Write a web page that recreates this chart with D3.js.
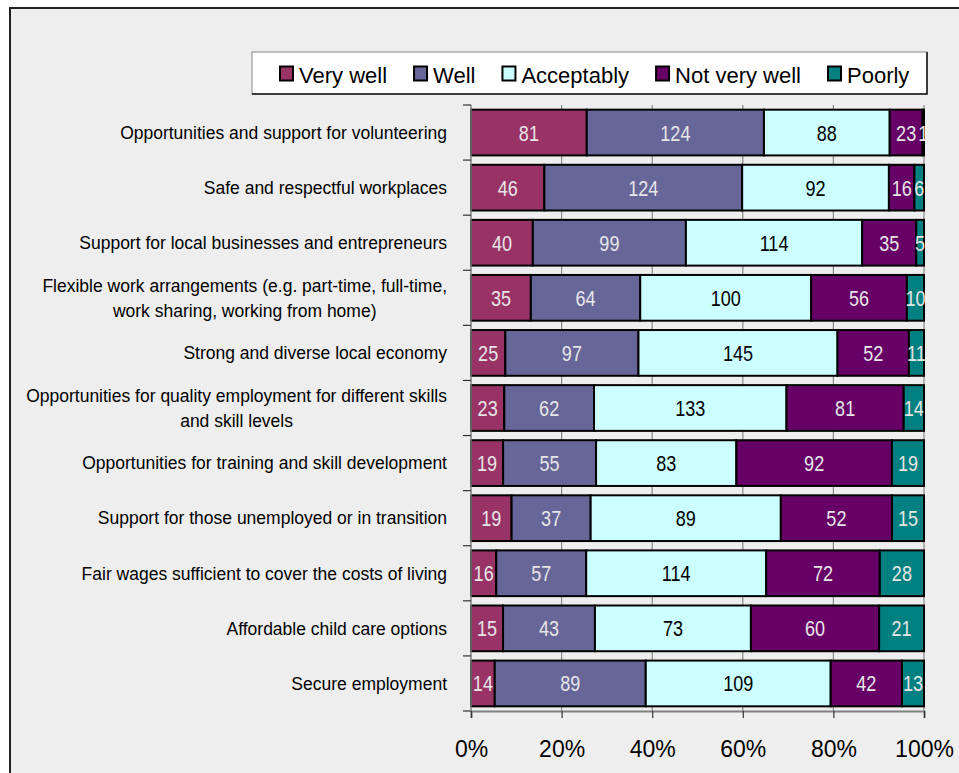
<!DOCTYPE html>
<html>
<head>
<meta charset="utf-8">
<script src="https://cdn.jsdelivr.net/npm/d3@7"></script>
<style>
  html, body { margin: 0; padding: 0; background: #ffffff; }
  svg { display: block; }
  text { font-family: "Liberation Sans", Arial, sans-serif; }
</style>
</head>
<body>
<svg id="chart" width="959" height="773"></svg>
<script>
// Survey responses: how well each area is being addressed
const categories = [
  ["Opportunities and support for volunteering"],
  ["Safe and respectful workplaces"],
  ["Support for local businesses and entrepreneurs"],
  ["Flexible work arrangements (e.g. part-time, full-time,", "work sharing, working from home)"],
  ["Strong and diverse local economy"],
  ["Opportunities for quality employment for different skills", "and skill levels"],
  ["Opportunities for training and skill development"],
  ["Support for those unemployed or in transition"],
  ["Fair wages sufficient to cover the costs of living"],
  ["Affordable child care options"],
  ["Secure employment"]
];
const seriesNames = ["Very well", "Well", "Acceptably", "Not very well", "Poorly"];
const veryWell   = [81, 46, 40, 35, 25, 23, 19, 19, 16, 15, 14];
const well       = [124, 124, 99, 64, 97, 62, 55, 37, 57, 43, 89];
const acceptably = [88, 92, 114, 100, 145, 133, 83, 89, 114, 73, 109];
const notVeryWell= [23, 16, 35, 56, 52, 81, 92, 52, 72, 60, 42];
const poorly     = [1, 6, 5, 10, 11, 14, 19, 15, 28, 21, 13];
const tickValues = [0, 0.2, 0.4, 0.6, 0.8, 1.0];

const colors = ["#993366", "#666699", "#CCFFFF", "#660066", "#008080"];
const labelColors = ["#e6e6e6", "#e6e6e6", "#000000", "#e6e6e6", "#e6e6e6"];

const seriesValues = [veryWell, well, acceptably, notVeryWell, poorly];
const rows = categories.map((c, i) => {
  const r = { idx: i };
  seriesNames.forEach((s, k) => { r[s] = seriesValues[k][i]; });
  return r;
});

const stacked = d3.stack().keys(seriesNames).offset(d3.stackOffsetExpand)(rows);

const svg = d3.select("#chart");

// chart frame
svg.append("rect").attr("x", 10).attr("y", 8).attr("width", 1000).attr("height", 800)
  .attr("fill", "#eeeeee").attr("stroke", "#222").attr("stroke-width", 2);

const plot = { left: 471, right: 924, top: 105, bottom: 711 };

const x = d3.scaleLinear().domain([0, 1]).range([plot.left, plot.right]);
const y = d3.scaleBand().domain(d3.range(categories.length))
  .range([plot.top, plot.bottom]).paddingInner(0.17).paddingOuter(0.085);

// vertical gridlines
svg.append("g").selectAll("line").data(tickValues.slice(1)).join("line")
  .attr("x1", d => x(d)).attr("x2", d => x(d))
  .attr("y1", plot.top).attr("y2", plot.bottom)
  .attr("stroke", "#888").attr("stroke-width", 1.2);

// stacked bars
const groups = svg.append("g").selectAll("g").data(stacked).join("g")
  .attr("fill", (d, k) => colors[k]);

groups.selectAll("rect").data(d => d).join("rect")
  .attr("x", d => x(d[0]))
  .attr("width", d => x(d[1]) - x(d[0]))
  .attr("y", d => y(d.data.idx))
  .attr("height", y.bandwidth())
  .attr("stroke", "#000").attr("stroke-width", 2);

// value labels in each segment
stacked.forEach((layer, k) => {
  svg.append("g").selectAll("text").data(layer).join("text")
    .attr("transform", d => `translate(${(x(d[0]) + x(d[1])) / 2},${y(d.data.idx) + y.bandwidth() / 2 + 8}) scale(0.84,1)`)
    .attr("text-anchor", "middle")
    .attr("font-size", "21.5px")
    .attr("fill", labelColors[k])
    .text(d => d.data[layer.key]);
});

// left axis line with ticks at band boundaries
const step = y.step();
svg.append("line").attr("x1", plot.left).attr("x2", plot.left)
  .attr("y1", plot.top).attr("y2", plot.bottom)
  .attr("stroke", "#808080").attr("stroke-width", 1.5);
svg.append("g").selectAll("line").data(d3.range(categories.length + 1)).join("line")
  .attr("x1", plot.left - 8).attr("x2", plot.left)
  .attr("y1", i => plot.top + i * step).attr("y2", i => plot.top + i * step)
  .attr("stroke", "#333").attr("stroke-width", 1.2);

// bottom axis
const xAxis = d3.axisBottom(x).tickValues(tickValues)
  .tickFormat(d3.format(".0%")).tickSize(7).tickPadding(0);
const gx = svg.append("g").attr("transform", `translate(0,${plot.bottom})`).call(xAxis);
gx.select(".domain").attr("stroke", "#808080").attr("stroke-width", 2);
gx.selectAll(".tick line").attr("stroke", "#333").attr("stroke-width", 1.2);
gx.selectAll(".tick text")
  .attr("font-family", "Liberation Sans, Arial, sans-serif")
  .attr("font-size", "23px").attr("fill", "#000")
  .attr("dy", null).attr("y", 46);

// category labels (multi-line labels are centred on each other)
const lineH = 25;
const catG = svg.append("g");
categories.forEach((lines, i) => {
  const cy = y(i) + y.bandwidth() / 2;
  const g = catG.append("g");
  const texts = lines.map((ln, j) => g.append("text")
    .attr("font-size", "17.5px").attr("fill", "#000")
    .attr("y", cy + 6.3 + (j - (lines.length - 1) / 2) * lineH)
    .text(ln));
  const widths = texts.map(t => t.node().getComputedTextLength());
  const maxW = d3.max(widths);
  const rightEdge = 447;
  texts.forEach((t, j) => {
    t.attr("text-anchor", "middle").attr("x", rightEdge - maxW / 2);
  });
});

// legend
const legend = { x: 252, y: 52, w: 675, h: 42 };
const lg = svg.append("g");
lg.append("rect").attr("x", legend.x).attr("y", legend.y)
  .attr("width", legend.w).attr("height", legend.h)
  .attr("fill", "#ffffff").attr("stroke", "#888").attr("stroke-width", 1);
lg.append("path")
  .attr("d", `M${legend.x},${legend.y + legend.h}H${legend.x + legend.w}V${legend.y}`)
  .attr("fill", "none").attr("stroke", "#111").attr("stroke-width", 1.5);

let lx = 279;
seriesNames.forEach((name, k) => {
  lg.append("rect").attr("x", lx + 1).attr("y", 66.5)
    .attr("width", 13).attr("height", 14)
    .attr("fill", colors[k]).attr("stroke", "#000").attr("stroke-width", 2);
  const t = lg.append("text").attr("x", lx + 20).attr("y", 82.5)
    .attr("font-size", "22px").attr("fill", "#000").text(name);
  lx += 20 + t.node().getComputedTextLength() + 26;
});
</script>
</body>
</html>
